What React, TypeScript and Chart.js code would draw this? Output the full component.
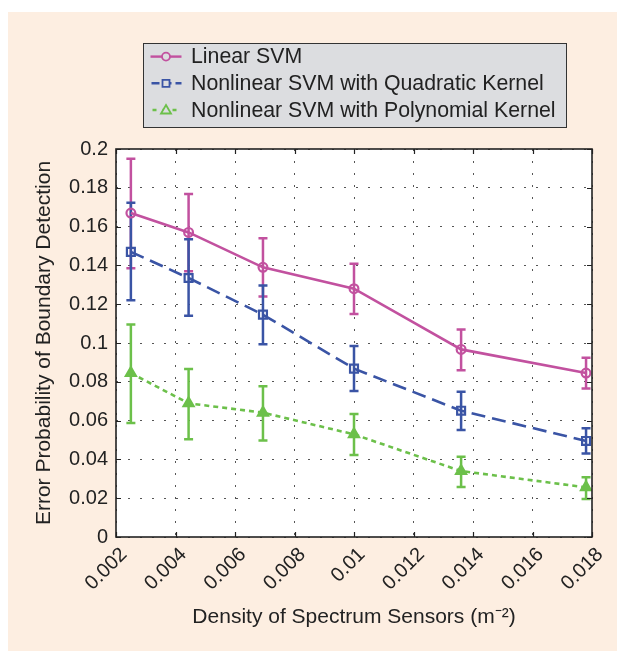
import React, { useEffect, useRef } from 'react';
import { Chart, registerables } from 'chart.js';

Chart.register(...registerables);

// ---- data ----
const densities = [0.0025, 0.00444, 0.00694, 0.01, 0.0136, 0.0178];

const linearSvm = [0.167, 0.157, 0.139, 0.128, 0.0967, 0.0845];
const linearLow = [0.1385, 0.137, 0.124, 0.115, 0.086, 0.0765];
const linearHigh = [0.195, 0.1768, 0.154, 0.1409, 0.107, 0.0924];

const quadSvm = [0.147, 0.1335, 0.1146, 0.0868, 0.0651, 0.0495];
const quadLow = [0.122, 0.114, 0.0993, 0.0753, 0.0552, 0.0431];
const quadHigh = [0.1723, 0.1535, 0.1296, 0.0985, 0.0749, 0.056];

const polySvm = [0.0845, 0.0689, 0.0641, 0.0529, 0.034, 0.0256];
const polyLow = [0.0588, 0.0504, 0.0498, 0.0423, 0.0258, 0.0196];
const polyHigh = [0.1096, 0.0866, 0.0777, 0.0634, 0.0414, 0.0308];

const xTickValues = [0.002, 0.004, 0.006, 0.008, 0.01, 0.012, 0.014, 0.016, 0.018];
const xTickLabels = ['0.002', '0.004', '0.006', '0.008', '0.01', '0.012', '0.014', '0.016', '0.018'];
const yTickValues = [0, 0.02, 0.04, 0.06, 0.08, 0.1, 0.12, 0.14, 0.16, 0.18, 0.2];
const yTickLabels = ['0', '0.02', '0.04', '0.06', '0.08', '0.1', '0.12', '0.14', '0.16', '0.18', '0.2'];

const seriesNames = [
  'Linear SVM',
  'Nonlinear SVM with Quadratic Kernel',
  'Nonlinear SVM with Polynomial Kernel',
];

const xTitle = 'Density of Spectrum Sensors (m\u207B\u00B2)';
const yTitle = 'Error Probability of Boundary Detection';

// ---- styles ----
const FONT = "'Liberation Sans', Arial, Helvetica, sans-serif";
const MAGENTA = '#c2519f';
const BLUE = '#3a54a5';
const GREEN = '#6cc04a';
const TEXT = '#222222';

const seriesStyles = [
  { color: MAGENTA, dash: [] as number[], pointStyle: 'circle', radius: 4.4, fill: 'rgba(255,255,255,0)' },
  { color: BLUE, dash: [14, 7], pointStyle: 'rect', radius: 5.6, fill: 'rgba(255,255,255,0)' },
  { color: GREEN, dash: [5, 4], pointStyle: 'triangle', radius: 5.8, fill: GREEN },
];

const seriesValues = [linearSvm, quadSvm, polySvm];
const seriesLow = [linearLow, quadLow, polyLow];
const seriesHigh = [linearHigh, quadHigh, polyHigh];

const plotBgPlugin = {
  id: 'plotBg',
  beforeDraw(chart: any) {
    const { ctx, chartArea } = chart;
    ctx.save();
    ctx.fillStyle = '#ffffff';
    ctx.fillRect(chartArea.left, chartArea.top, chartArea.right - chartArea.left, chartArea.bottom - chartArea.top);
    ctx.restore();
  },
};

const errorBarPlugin = {
  id: 'errorBars',
  beforeDatasetsDraw(chart: any) {
    const { ctx } = chart;
    const xs = chart.scales.x;
    const ys = chart.scales.y;
    const cap = 4.5;
    seriesValues.forEach((_, s) => {
      ctx.save();
      ctx.strokeStyle = seriesStyles[s].color;
      ctx.lineWidth = 2.5;
      ctx.setLineDash([]);
      densities.forEach((d, i) => {
        const px = xs.getPixelForValue(d);
        const p1 = ys.getPixelForValue(seriesLow[s][i]);
        const p2 = ys.getPixelForValue(seriesHigh[s][i]);
        ctx.beginPath();
        ctx.moveTo(px, p1);
        ctx.lineTo(px, p2);
        ctx.moveTo(px - cap, p1);
        ctx.lineTo(px + cap, p1);
        ctx.moveTo(px - cap, p2);
        ctx.lineTo(px + cap, p2);
        ctx.stroke();
      });
      ctx.restore();
    });
  },
};

const framePlugin = {
  id: 'frame',
  afterDatasetsDraw(chart: any) {
    const { ctx, chartArea } = chart;
    const xs = chart.scales.x;
    const ys = chart.scales.y;
    const { left, right, top, bottom } = chartArea;
    const tl = 5;
    ctx.save();
    ctx.strokeStyle = '#222';
    ctx.lineWidth = 1.2;
    ctx.setLineDash([]);
    ctx.beginPath();
    xs.ticks.forEach((t: any) => {
      const px = Math.round(xs.getPixelForValue(t.value)) + 0.5;
      ctx.moveTo(px, bottom);
      ctx.lineTo(px, bottom - tl);
      ctx.moveTo(px, top);
      ctx.lineTo(px, top + tl);
    });
    ys.ticks.forEach((t: any) => {
      const py = Math.round(ys.getPixelForValue(t.value)) + 0.5;
      ctx.moveTo(left, py);
      ctx.lineTo(left + tl, py);
      ctx.moveTo(right, py);
      ctx.lineTo(right - tl, py);
    });
    ctx.stroke();
    ctx.lineWidth = 1.6;
    ctx.strokeRect(left, top, right - left, bottom - top);
    ctx.restore();
  },
};

const legendPlugin = {
  id: 'boxLegend',
  afterDraw(chart: any) {
    const { ctx } = chart;
    const bx = 135.5;
    const by = 31.5;
    const bw = 423;
    const bh = 84;
    ctx.save();
    ctx.fillStyle = '#dcdde0';
    ctx.fillRect(bx, by, bw, bh);
    ctx.strokeStyle = '#333';
    ctx.lineWidth = 1;
    ctx.strokeRect(bx, by, bw, bh);
    const rowH = 26.7;
    const firstRow = 44.6;
    const lineX1 = 142.5;
    const lineX2 = 173.5;
    const textX = 183;
    seriesNames.forEach((name, s) => {
      const st = seriesStyles[s];
      const y = firstRow + rowH * s;
      ctx.strokeStyle = st.color;
      ctx.lineWidth = 2.4;
      ctx.setLineDash(s === 0 ? [] : s === 1 ? [8, 4] : [4, 6]);
      ctx.lineDashOffset = s === 1 ? -1 : -2;
      ctx.beginPath();
      ctx.moveTo(lineX1, y);
      ctx.lineTo(lineX2, y);
      ctx.stroke();
      ctx.setLineDash([]);
      const cx = (lineX1 + lineX2) / 2;
      ctx.fillStyle = '#dcdde0';
      ctx.lineWidth = 1.8;
      ctx.beginPath();
      if (st.pointStyle === 'circle') {
        ctx.arc(cx, y, 4, 0, Math.PI * 2);
        ctx.fill();
        ctx.stroke();
      } else if (st.pointStyle === 'rect') {
        ctx.rect(cx - 3.5, y - 3.5, 7, 7);
        ctx.fill();
        ctx.stroke();
      } else {
        ctx.moveTo(cx, y - 5);
        ctx.lineTo(cx + 5, y + 3.5);
        ctx.lineTo(cx - 5, y + 3.5);
        ctx.closePath();
        ctx.fill();
        ctx.stroke();
      }
      ctx.fillStyle = TEXT;
      ctx.font = `21.3px ${FONT}`;
      ctx.textBaseline = 'middle';
      ctx.textAlign = 'left';
      ctx.fillText(name, textX, y + 1);
    });
    ctx.restore();
  },
};

export default function App() {
  const canvasRef = useRef<HTMLCanvasElement | null>(null);

  useEffect(() => {
    if (!canvasRef.current) return;
    const datasets = seriesNames.map((name, s) => ({
      label: name,
      data: densities.map((d, i) => ({ x: d, y: seriesValues[s][i] })),
      borderColor: seriesStyles[s].color,
      backgroundColor: seriesStyles[s].color,
      borderWidth: 2.6,
      borderDash: seriesStyles[s].dash,
      pointStyle: seriesStyles[s].pointStyle,
      pointRadius: seriesStyles[s].radius,
      pointBorderWidth: 2.2,
      pointBorderColor: seriesStyles[s].color,
      pointBackgroundColor: seriesStyles[s].fill,
      tension: 0,
      fill: false,
    }));

    const chart = new Chart(canvasRef.current, {
      type: 'line',
      data: { datasets },
      plugins: [plotBgPlugin, errorBarPlugin, framePlugin, legendPlugin],
      options: {
        animation: false,
        responsive: false,
        devicePixelRatio: 1,
        layout: { padding: { top: 137, right: 25, left: 0, bottom: 0 } },
        plugins: {
          legend: { display: false },
          tooltip: { enabled: false },
        },
        scales: {
          x: {
            type: 'linear',
            min: 0.002,
            max: 0.018,
            afterBuildTicks: (scale: any) => {
              scale.ticks = xTickValues.map((v) => ({ value: v }));
            },
            afterFit: (scale: any) => {
              scale.height = 114;
            },
            ticks: {
              autoSkip: false,
              minRotation: 45,
              maxRotation: 45,
              padding: 6,
              labelOffset: 8,
              color: TEXT,
              font: { family: FONT, size: 20 },
              callback: (_v: any, i: number) => xTickLabels[i],
            },
            grid: {
              color: '#555',
              lineWidth: 1,
              drawTicks: false,
            },
            border: { display: false, dash: [2, 10] },
            title: {
              display: true,
              text: xTitle,
              color: TEXT,
              font: { family: FONT, size: 21 },
              padding: { top: 0, bottom: 21 },
            },
          },
          y: {
            type: 'linear',
            min: 0,
            max: 0.2,
            afterBuildTicks: (scale: any) => {
              scale.ticks = yTickValues.map((v) => ({ value: v }));
            },
            afterFit: (scale: any) => {
              scale.width = 108;
            },
            ticks: {
              autoSkip: false,
              padding: 8,
              color: TEXT,
              font: { family: FONT, size: 20 },
              callback: (_v: any, i: number) => yTickLabels[i],
            },
            grid: {
              color: '#555',
              lineWidth: 1,
              drawTicks: false,
            },
            border: { display: false, dash: [2, 10] },
            title: {
              display: true,
              text: yTitle,
              color: TEXT,
              font: { family: FONT, size: 21 },
              padding: { top: 24, bottom: 0 },
            },
          },
        },
      },
    });
    return () => chart.destroy();
  }, []);

  return (
    <div
      style={{
        position: 'absolute',
        left: 8,
        top: 12,
        width: 609,
        height: 639,
        background: '#fdeee1',
      }}
    >
      <canvas ref={canvasRef} width={609} height={639} style={{ display: 'block' }} />
    </div>
  );
}
